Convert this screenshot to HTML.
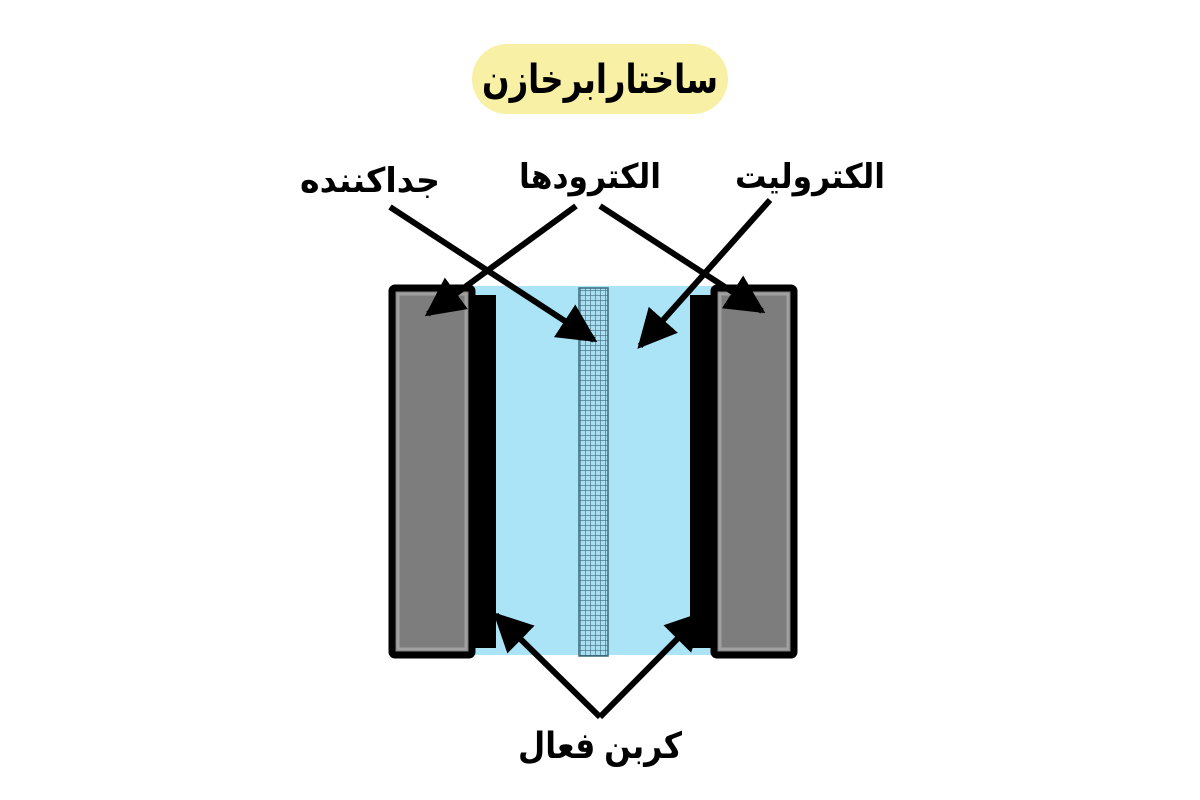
<!DOCTYPE html>
<html><head><meta charset="utf-8"><style>
html,body{margin:0;padding:0;background:#fff;}
svg{display:block}
text{font-family:"Liberation Sans","DejaVu Sans",sans-serif;font-weight:bold;fill:#000}
</style></head><body>
<svg width="1200" height="800" viewBox="0 0 1200 800" xmlns="http://www.w3.org/2000/svg">
<defs>
<pattern id="mesh" width="5" height="5" patternUnits="userSpaceOnUse">
<rect width="5" height="5" fill="#a9def0"/>
<path d="M0 0H5M0 0V5" stroke="#3d6a7c" stroke-width="1.2"/>
</pattern>
<marker id="ah" viewBox="0 0 10 10" refX="9" refY="5" markerWidth="6.5" markerHeight="6.5" orient="auto" markerUnits="strokeWidth">
<path d="M0 0L10 5L0 10z" fill="#000"/>
</marker>
</defs>
<rect x="472" y="44" width="256" height="70" rx="35" fill="#f8f0a4"/>
<text x="600" y="93" font-size="40" text-anchor="middle" direction="rtl" textLength="236" lengthAdjust="spacingAndGlyphs">ساختارابرخازن</text>

<rect x="474" y="286" width="242" height="369" fill="#abe4f6"/>
<rect x="579" y="288" width="29" height="368" fill="url(#mesh)" stroke="#3d6a7c" stroke-width="1.5"/>
<rect x="470" y="295" width="26" height="353" fill="#000"/>
<rect x="690" y="295" width="26" height="353" fill="#000"/>
<rect x="392" y="288" width="80" height="367" rx="3" fill="#7d7d7d" stroke="#000" stroke-width="7"/>
<rect x="398" y="294" width="68" height="355" fill="none" stroke="#a0a0a0" stroke-width="3"/>
<rect x="714" y="288" width="80" height="367" rx="3" fill="#7d7d7d" stroke="#000" stroke-width="7"/>
<rect x="720" y="294" width="68" height="355" fill="none" stroke="#a0a0a0" stroke-width="3"/>

<g stroke="#000" stroke-width="6" fill="none" marker-end="url(#ah)">
<line x1="390" y1="207" x2="594" y2="340"/>
<line x1="576" y1="206" x2="428" y2="314"/>
<line x1="600" y1="206" x2="762" y2="311"/>
<line x1="770" y1="200" x2="640" y2="346"/>
<line x1="600" y1="717" x2="496" y2="615"/>
<line x1="600" y1="717" x2="702" y2="614"/>
</g>

<text x="370" y="192" font-size="34" text-anchor="middle" direction="rtl" textLength="140" lengthAdjust="spacingAndGlyphs">جداکننده</text>
<text x="590" y="188" font-size="34" text-anchor="middle" direction="rtl" textLength="142" lengthAdjust="spacingAndGlyphs">الکترودها</text>
<text x="810" y="188" font-size="34" text-anchor="middle" direction="rtl" textLength="150" lengthAdjust="spacingAndGlyphs">الکترولیت</text>
<text x="600" y="758" font-size="36" text-anchor="middle" direction="rtl" textLength="164" lengthAdjust="spacingAndGlyphs">کربن فعال</text>
</svg>
</body></html>
